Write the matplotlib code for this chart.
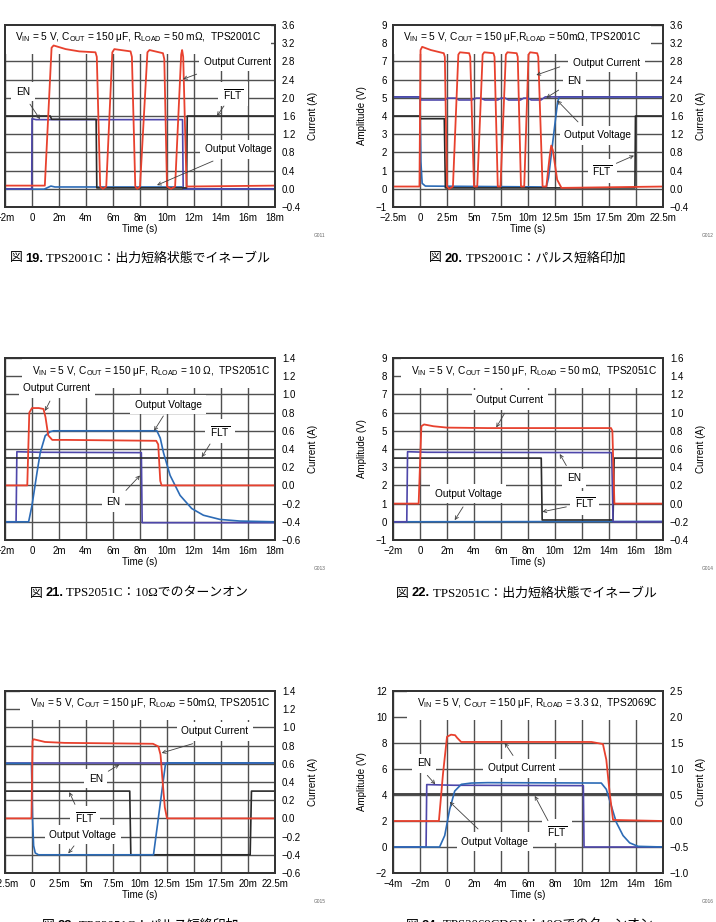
import numpy as np
import matplotlib
matplotlib.use("Agg")
import matplotlib.pyplot as plt
from matplotlib.ticker import FuncFormatter
from matplotlib.offsetbox import TextArea, HPacker, AnnotationBbox

plt.rcParams['font.family'] = ['Liberation Sans', 'DejaVu Sans']
plt.rcParams['font.size'] = 7

######################################################################
#####     TRACE DATA  (time in ms, voltage in V, current in A)   #####
######################################################################

# fig 19 - TPS2001C enable into short
cur19_t = [-2, 0.95, 1.45, 1.6, 2.5, 3.5, 4.7, 4.8, 5.05, 5.25, 5.5, 5.95, 6.1, 7.3, 7.4, 7.65,
           7.8, 8.0, 8.55, 8.7, 9.7, 9.8, 10.0, 10.3, 10.6, 11.05, 11.12, 11.2, 11.45, 18]
cur19_v = [0.07, 0.07, 3.1, 3.15, 3.07, 3.02, 3.0, 2.9, 0.05, 0.0, 0.05, 3.0, 3.07, 3.02, 2.9, 0.05,
           0.0, 0.05, 3.0, 3.05, 2.98, 2.85, 0.05, 0.0, 0.05, 2.95, 3.05, 2.9, 0.05, 0.07]
en19_t = [-2, -0.02, 0.0, 0.3, 11.15, 11.2, 18]
en19_v = [0.0, 0.0, 3.85, 3.8, 3.8, 0.0, 0.0]
flt19_t = [-2, 1.35, 1.45, 4.75, 4.8, 11.45, 11.5, 18]
flt19_v = [4.0, 4.0, 3.82, 3.82, 0.05, 0.05, 4.0, 4.0]
out19_t = [-2, 0.9, 1.4, 1.7, 11.1, 11.3, 18]
out19_v = [-0.02, -0.02, 0.15, 0.1, 0.1, -0.02, -0.02]

# fig 20 - TPS2001C pulsed short
cur20_t = [-2.5, -0.05, 0.05, 0.2, 1.0, 2.2, 2.3, 2.5, 2.7, 3.05, 3.55, 3.7, 4.55, 4.65, 5.0, 5.3,
           5.8, 5.95, 6.8, 6.9, 7.2, 7.45, 7.95, 8.1, 8.95, 9.05, 9.35, 9.65, 10.05, 10.2, 10.85,
           10.95, 11.35, 11.7, 12.0, 12.15, 12.3, 12.7, 13.1, 22.5]
cur20_v = [0.05, 0.05, 3.05, 3.12, 3.05, 2.98, 2.9, 0.05, 0.0, 0.05, 2.95, 3.0, 2.98, 2.9, 0.05, 0.05,
           2.95, 3.0, 2.98, 2.9, 0.05, 0.05, 2.95, 3.0, 2.98, 2.9, 0.05, 0.05, 2.95, 3.0, 2.98,
           2.9, 0.05, 0.05, 0.7, 0.95, 0.85, 0.2, 0.02, 0.05]
en20_t = [-2.5, 0, 0.1, 2.3, 2.6, 3.3, 3.6, 4.8, 5.2, 5.6, 6.0, 7.2, 7.5, 7.9, 8.2, 9.3, 9.6, 10.0,
          10.3, 11.2, 11.6, 22.5]
en20_v = [5.05, 5.05, 4.88, 4.88, 4.98, 4.98, 4.88, 4.88, 4.98, 4.98, 4.88, 4.88, 4.98, 4.98, 4.88,
          4.88, 4.98, 4.98, 4.88, 4.88, 5.05, 5.05]
flt20_t = [-2.5, 0.0, 0.05, 2.25, 2.35, 19.9, 19.95, 22.5]
flt20_v = [4.0, 4.0, 3.85, 3.85, 0.05, 0.05, 4.0, 4.0]
out20_t = [-2.5, 0.0, 0.08, 0.2, 0.5, 11.7, 11.9, 12.5, 12.75, 12.9, 22.5]
out20_v = [5.05, 5.05, 1.5, 0.3, 0.15, 0.1, 0.6, 3.6, 4.8, 5.05, 5.05]

# fig 21 - TPS2051C turn-on into 10 ohm
cur21_t = [-2, -0.35, -0.2, 0.0, 0.5, 0.85, 1.0, 1.2, 1.5, 2.5, 9.2, 9.35, 9.5, 9.6, 18]
cur21_v = [0.0, 0.0, 0.8, 0.85, 0.85, 0.84, 0.75, 0.55, 0.5, 0.5, 0.49, 0.45, 0.05, 0.0, 0.0]
en21_t = [-2, -1.18, -1.12, 0.5, 8.1, 8.16, 18]
en21_v = [0.0, 0.0, 3.85, 3.82, 3.8, -0.05, -0.05]
flt21_t = [-2, 18]
flt21_v = [3.5, 3.5]
out21_t = [-2, -0.25, 0.0, 0.37, 0.61, 0.98, 1.35, 1.6, 9.25, 9.5, 9.74, 10.23, 10.97, 11.83,
           12.7, 13.93, 15.4, 18]
out21_v = [0.0, 0.0, 0.9, 2.7, 3.8, 4.73, 4.95, 5.0, 5.0, 4.6, 3.8, 2.55, 1.45, 0.73,
           0.36, 0.13, 0.04, 0.0]

# fig 22 - TPS2051C enable into short
cur22_t = [-2, -0.1, 0.1, 0.3, 1.0, 2.0, 5.0, 14.15, 14.25, 14.4, 18]
cur22_v = [0.0, 0.0, 0.85, 0.87, 0.85, 0.835, 0.83, 0.83, 0.8, 0.0, 0.0]
en22_t = [-2, -0.98, -0.92, 0.5, 14.2, 14.3, 18]
en22_v = [0.0, 0.0, 3.85, 3.82, 3.8, 0.0, 0.0]
flt22_t = [-2, 8.98, 9.05, 14.3, 14.38, 18]
flt22_v = [3.5, 3.5, 0.1, 0.1, 3.5, 3.5]
out22_t = [-2, 18]
out22_v = [0.0, 0.02]

# fig 23 - TPS2051C pulsed short
cur23_t = [-2.5, -0.05, 0.05, 0.15, 1.2, 3.0, 11.2, 11.7, 11.9, 12.1, 12.3, 12.5, 22.5]
cur23_v = [0.0, 0.0, 0.85, 0.87, 0.84, 0.83, 0.82, 0.79, 0.7, 0.4, 0.12, 0.0, 0.0]
en23_t = [-2.5, 22.5]
en23_v = [5.02, 5.02]
flt23_t = [-2.5, 9.05, 9.15, 20.2, 20.32, 22.5]
flt23_v = [3.5, 3.5, 0.0, 0.0, 3.5, 3.5]
out23_t = [-2.5, -0.05, 0.05, 0.15, 0.3, 0.6, 11.25, 12.35, 12.5, 22.5]
out23_v = [5.02, 5.02, 2.0, 0.5, 0.1, 0.0, 0.0, 4.95, 5.05, 5.05]

# fig 24 - TPS2069C turn-on into 3.3 ohm
cur24_t = [-4, -0.6, -0.3, 0.0, 0.3, 0.6, 0.75, 1.05, 2.0, 10.7, 11.55, 11.8, 12.05, 12.3, 16]
cur24_v = [0.0, 0.0, 0.9, 1.62, 1.66, 1.65, 1.6, 1.52, 1.52, 1.52, 1.48, 1.18, 0.54, 0.02, 0.0]
en24_t = [-4, -1.55, -1.5, 0.5, 10.1, 10.15, 16]
en24_v = [0.0, 0.0, 4.8, 4.75, 4.72, 0.0, 0.0]
flt24_t = [-4, 16]
flt24_v = [4.05, 4.05]
out24_t = [-4, -0.55, -0.17, 0.2, 0.57, 1.06, 1.8, 3.0, 11.43, 11.8, 12.17, 12.54, 13.04,
           13.53, 14.15, 16]
out24_v = [0.0, 0.0, 0.88, 2.9, 4.3, 4.82, 4.92, 4.95, 4.92, 4.44, 3.17, 1.9, 0.88,
           0.32, 0.05, 0.0]

RED = '#e8412e'
BLUE = '#2c6bb6'
PURPLE = '#4e47aa'
BLACK = '#2a2a2a'
GRID = '#505050'
FLT = r'$\overline{\mathregular{FLT}}$'
W, H = 716, 922


def rect(x, y, w=270, h=182):
    # pixel box (top-left origin) -> figure fraction
    return [x / W, 1 - (y + h) / H, w / W, h / H]


def ms_label(v):
    if abs(v) < 1e-9:
        return '0'
    return ('\u2212' if v < 0 else '') + f'{abs(v):g}m'


def num_fmt(fmt):
    def f(v, pos):
        if abs(v) < 1e-9:
            v = 0.0
        return (fmt % v).replace('-', '\u2212')
    return FuncFormatter(f)


def scope(fig, box, xlim, xstep, vlim, vstep, vfmt, ilim, istep, volts, cur, header, hxy, notes, tag):
    ax = fig.add_axes(box)
    ax2 = ax.twinx()
    ax.set_axisbelow(True)

    for t, v, c in volts:
        ax.plot(t, v, color=c, lw=1.2, zorder=2)
    ax2.plot(cur[0], cur[1], color=RED, lw=1.3)

    xt = np.round(np.arange(xlim[0], xlim[1] + xstep / 2, xstep), 3)
    ax.set_xlim(xlim)
    ax.set_xticks(xt)
    ax.set_xticklabels([ms_label(v) for v in xt])
    ax.set_ylim(vlim)
    ax.set_yticks(np.round(np.arange(vlim[0], vlim[1] + vstep / 2, vstep), 3))
    ax.yaxis.set_major_formatter(num_fmt(vfmt))
    ax2.set_ylim(ilim)
    ax2.set_yticks(np.round(np.arange(ilim[0], ilim[1] + istep / 2, istep), 3))
    ax2.yaxis.set_major_formatter(num_fmt('%.1f'))

    ax.grid(True, color=GRID, lw=1.0)
    ax.tick_params(length=0, labelsize=7, pad=4.5)
    ax2.tick_params(length=0, labelsize=7, pad=5)
    for a in (ax, ax2):
        for s in a.spines.values():
            s.set_color('#333333')
            s.set_linewidth(1.3)
            s.set_zorder(10)

    ax.set_xlabel('Time (s)', fontsize=7)
    ax.xaxis.set_label_coords(0.5, -0.095)
    ax.set_ylabel('Amplitude (V)', fontsize=7)
    ax.yaxis.set_label_coords(-0.096, 0.5)
    ax2.set_ylabel('Current (A)', fontsize=7)
    ax2.yaxis.set_label_coords(1.122, 0.5)

    # white label boxes sit over the grid but under the traces
    ax.text(hxy[0], hxy[1], header, transform=ax2.transData, ha='left', va='center',
            fontsize=7.3, zorder=1, clip_on=True,
            bbox=dict(boxstyle='square,pad=1.0', fc='white', ec='none'))
    for label, xy, ha, tail, head in notes:
        ax.text(xy[0], xy[1], label, transform=ax2.transData, ha=ha, va='center',
                fontsize=7.3, zorder=1, clip_on=True,
                bbox=dict(boxstyle='square,pad=0.45', fc='white', ec='none'))
        ax2.annotate('', xy=head, xytext=tail, zorder=7,
                     arrowprops=dict(arrowstyle='->', color='#404040', lw=0.6,
                                     shrinkA=0, shrinkB=0, mutation_scale=6))
    ax.text(1.165, -0.154, tag, transform=ax.transAxes, fontsize=3.5, color='#666666',
            ha='center', va='center')
    return ax, ax2


def caption(fig, x, y, num, rest):
    parts = [TextArea('図 ', textprops=dict(family='Noto Sans CJK JP', size=9.3)),
             TextArea(f'{num}.', textprops=dict(family='Liberation Sans', weight='bold', size=9.3)),
             TextArea(' ' + rest, textprops=dict(family=['Liberation Serif', 'Noto Sans CJK JP'], size=9.3))]
    row = HPacker(children=parts, align='baseline', pad=0, sep=0)
    fig.add_artist(AnnotationBbox(row, (x, y), xycoords='figure fraction', frameon=False,
                                  box_alignment=(0.5, 0.5)))


fig = plt.figure(figsize=(7.16, 9.22), dpi=100)

hdr = 'V$_\\mathregular{IN}$ = 5 V, C$_\\mathregular{OUT}$ = 150 μF,'

scope(fig, rect(5, 25), (-2, 18), 2, (-1, 9), 1, '%d', (-0.4, 3.6), 0.4,
      [(out19_t, out19_v, BLUE), (en19_t, en19_v, PURPLE), (flt19_t, flt19_v, BLACK)],
      (cur19_t, cur19_v),
      hdr + ' R$_\\mathregular{LOAD}$ = 50 mΩ,  TPS2001C', (-1.26, 3.34),
      [('Output Current', (17.68, 2.79), 'right', (12.2, 2.52), (11.19, 2.41)),
       ('EN', (-0.67, 2.13), 'center', (-0.15, 1.86), (0.59, 1.53)),
       (FLT, (14.89, 2.08), 'center', (14.22, 1.82), (13.7, 1.6)),
       ('Output Voltage', (15.26, 0.87), 'center', (13.41, 0.61), (9.26, 0.08))],
      'G011')

scope(fig, rect(393, 25), (-2.5, 22.5), 2.5, (-1, 9), 1, '%d', (-0.4, 3.6), 0.4,
      [(out20_t, out20_v, BLUE), (en20_t, en20_v, PURPLE), (flt20_t, flt20_v, BLACK)],
      (cur20_t, cur20_v),
      hdr + 'R$_\\mathregular{LOAD}$ = 50mΩ, TPS2001C', (-1.57, 3.34),
      [('Output Current', (14.17, 2.77), 'left', (12.94, 2.68), (10.77, 2.5)),
       ('EN', (14.32, 2.38), 'center', (12.84, 2.17), (11.69, 2.0)),
       ('Output Voltage', (16.48, 1.18), 'center', (14.63, 1.47), (12.71, 1.94)),
       (FLT, (16.88, 0.4), 'center', (18.18, 0.56), (19.81, 0.73))],
      'G012')

scope(fig, rect(5, 358), (-2, 18), 2, (-1, 9), 1, '%d', (-0.6, 1.4), 0.2,
      [(en21_t, en21_v, PURPLE), (flt21_t, flt21_v, BLACK), (out21_t, out21_v, BLUE)],
      (cur21_t, cur21_v),
      hdr + ' R$_\\mathregular{LOAD}$ = 10 Ω,  TPS2051C', (0.0, 1.254),
      [('Output Current', (1.83, 1.065), 'center', (1.33, 0.927), (0.96, 0.818)),
       ('Output Voltage', (10.1, 0.887), 'center', (9.73, 0.763), (9.04, 0.6)),
       (FLT, (13.93, 0.593), 'center', (13.19, 0.455), (12.57, 0.31)),
       ('EN', (6.02, -0.186), 'center', (6.96, -0.055), (8.0, 0.109))],
      'G013')

scope(fig, rect(393, 358), (-2, 18), 2, (-1, 9), 1, '%d', (-0.4, 1.6), 0.2,
      [(out22_t, out22_v, BLUE), (flt22_t, flt22_v, BLACK), (en22_t, en22_v, PURPLE)],
      (cur22_t, cur22_v),
      hdr + ' R$_\\mathregular{LOAD}$ = 50 mΩ,  TPS2051C', (-0.64, 1.454),
      [('Output Current', (6.64, 1.138), 'center', (6.27, 0.993), (5.65, 0.837)),
       ('EN', (11.41, 0.28), 'center', (10.84, 0.418), (10.35, 0.545)),
       (FLT, (12.2, 0.008), 'center', (10.84, -0.036), (9.06, -0.09)),
       ('Output Voltage', (3.56, 0.109), 'center', (3.19, -0.036), (2.57, -0.182))],
      'G014')

scope(fig, rect(5, 691), (-2.5, 22.5), 2.5, (-1, 9), 1, '%d', (-0.6, 1.4), 0.2,
      [(en23_t, en23_v, PURPLE), (flt23_t, flt23_v, BLACK), (out23_t, out23_v, BLUE)],
      (cur23_t, cur23_v),
      hdr + ' R$_\\mathregular{LOAD}$ = 50mΩ, TPS2051C', (-0.19, 1.272),
      [('Output Current', (16.94, 0.955), 'center', (14.88, 0.821), (12.01, 0.719)),
       ('EN', (5.9, 0.438), 'center', (7.06, 0.518), (8.08, 0.591)),
       (FLT, (4.91, 0.009), 'center', (3.98, 0.154), (3.45, 0.289)),
       ('Output Voltage', (4.69, -0.181), 'center', (3.89, -0.302), (3.36, -0.385))],
      'G015')

scope(fig, rect(393, 691), (-4, 16), 2, (-2, 12), 2, '%d', (-1.0, 2.5), 0.5,
      [(flt24_t, flt24_v, BLACK), (en24_t, en24_v, PURPLE), (out24_t, out24_v, BLUE)],
      (cur24_t, cur24_v),
      hdr + ' R$_\\mathregular{LOAD}$ = 3.3 Ω,  TPS2069C', (-2.2, 2.265),
      [('EN', (-1.7, 1.107), 'center', (-1.46, 0.878), (-0.87, 0.706)),
       ('Output Current', (5.5, 1.011), 'center', (4.89, 1.26), (4.27, 1.502)),
       (FLT, (8.15, -0.197), 'center', (7.48, 0.006), (6.5, 0.483)),
       ('Output Voltage', (3.53, -0.395), 'center', (2.3, -0.153), (0.2, 0.368))],
      'G016')

caption(fig, 140 / W, 1 - 258 / H, 19, 'TPS2001C：出力短絡状態でイネーブル')
caption(fig, 527 / W, 1 - 258 / H, 20, 'TPS2001C：パルス短絡印加')
caption(fig, 139 / W, 1 - 593 / H, 21, 'TPS2051C：10Ωでのターンオン')
caption(fig, 526 / W, 1 - 593 / H, 22, 'TPS2051C：出力短絡状態でイネーブル')
caption(fig, 140 / W, 1 - 925 / H, 23, 'TPS2051C：パルス短絡印加')
caption(fig, 529 / W, 1 - 925 / H, 24, 'TPS2069CDGN：10Ωでのターンオン')

fig.savefig('out.png', dpi=100)
